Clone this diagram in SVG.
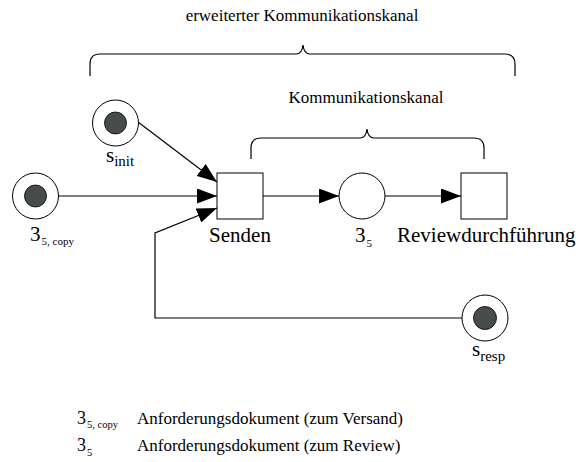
<svg xmlns="http://www.w3.org/2000/svg" width="580" height="462" viewBox="0 0 580 462">
  <style>
    text { font-family: "Liberation Serif", "Times New Roman", serif; fill: #000; }
    .lbl { font-size: 21px; }
    .hdr { font-size: 17px; }
    .sub { font-size: 11px; }
    .subl { font-size: 15px; }
    .place { fill: #fff; stroke: #000; stroke-width: 1; }
    .token { fill: #474d4a; stroke: #000; stroke-width: 0.8; }
    .trans { fill: #fff; stroke: #000; stroke-width: 1; }
    .arc { fill: none; stroke: #000; stroke-width: 1.2; marker-end: url(#head); }
    .brace { fill: none; stroke: #000; stroke-width: 1.2; }
  </style>
  <defs>
    <marker id="head" markerUnits="userSpaceOnUse" markerWidth="20" markerHeight="15" refX="20" refY="7.5" orient="auto">
      <path d="M0,0 L20,7.5 L0,15 z" fill="#000"/>
    </marker>
  </defs>

  <rect width="580" height="462" fill="#fff"/>

  <!-- braces with captions -->
  <g id="brace-extended">
    <text class="hdr" x="302" y="21" text-anchor="middle">erweiterter Kommunikationskanal</text>
    <path class="brace" d="M90,76 V64 Q90,54 100,54 H296 Q302,54 303,45 Q304,54 310,54 H505 Q515,54 515,64 V76"/>
  </g>
  <g id="brace-channel">
    <text class="hdr" x="366" y="103" text-anchor="middle">Kommunikationskanal</text>
    <path class="brace" d="M251,159 V148 Q251,138 261,138 H360 Q366,138 367,129 Q368,138 374,138 H474 Q484,138 484,148 V159"/>
  </g>

  <!-- arcs -->
  <g id="connectors">
    <line class="arc" x1="138" y1="122" x2="217" y2="182"/>
    <line class="arc" x1="58.5" y1="196" x2="217" y2="196"/>
    <polyline class="arc" points="462,318 155,318 155,233 217,208"/>
    <line class="arc" x1="263" y1="196" x2="339" y2="196"/>
    <line class="arc" x1="385" y1="196" x2="461" y2="196"/>
  </g>

  <!-- places -->
  <g id="place-s-init">
    <circle class="place" cx="115.5" cy="123" r="23"/>
    <circle class="token" cx="115.5" cy="123" r="11"/>
    <text x="106" y="162"><tspan class="lbl">s</tspan><tspan class="subl" dy="4">init</tspan></text>
  </g>
  <g id="place-3-5-copy">
    <circle class="place" cx="35.5" cy="196" r="23"/>
    <circle class="token" cx="35.5" cy="196" r="11"/>
    <text x="30" y="241"><tspan class="lbl">3</tspan><tspan class="sub" dy="4" dx="1">5, copy</tspan></text>
  </g>
  <g id="place-3-5">
    <circle class="place" cx="362" cy="196" r="23"/>
    <text x="355" y="242"><tspan class="lbl">3</tspan><tspan class="sub" dy="5" dx="1">5</tspan></text>
  </g>
  <g id="place-s-resp">
    <circle class="place" cx="485" cy="318" r="23"/>
    <circle class="token" cx="485" cy="318" r="11.5"/>
    <text x="472" y="356"><tspan class="lbl">s</tspan><tspan class="subl" dy="5">resp</tspan></text>
  </g>

  <!-- transitions -->
  <g id="trans-senden">
    <rect class="trans" x="217" y="173" width="46" height="46"/>
    <text class="lbl" x="240" y="242" text-anchor="middle">Senden</text>
  </g>
  <g id="trans-review">
    <rect class="trans" x="461" y="173" width="46" height="46"/>
    <text class="lbl" x="397" y="242">Reviewdurchführung</text>
  </g>

  <!-- legend -->
  <g id="legend">
    <text x="77" y="424"><tspan style="font-size:18px">3</tspan><tspan class="sub" dy="4" dx="1" style="font-size:10.5px">5, copy</tspan></text>
    <text class="hdr" x="137" y="424">Anforderungsdokument (zum Versand)</text>
    <text x="77" y="451"><tspan style="font-size:18px">3</tspan><tspan class="sub" dy="5" dx="1" style="font-size:10.5px">5</tspan></text>
    <text class="hdr" x="137" y="451">Anforderungsdokument (zum Review)</text>
  </g>
</svg>
